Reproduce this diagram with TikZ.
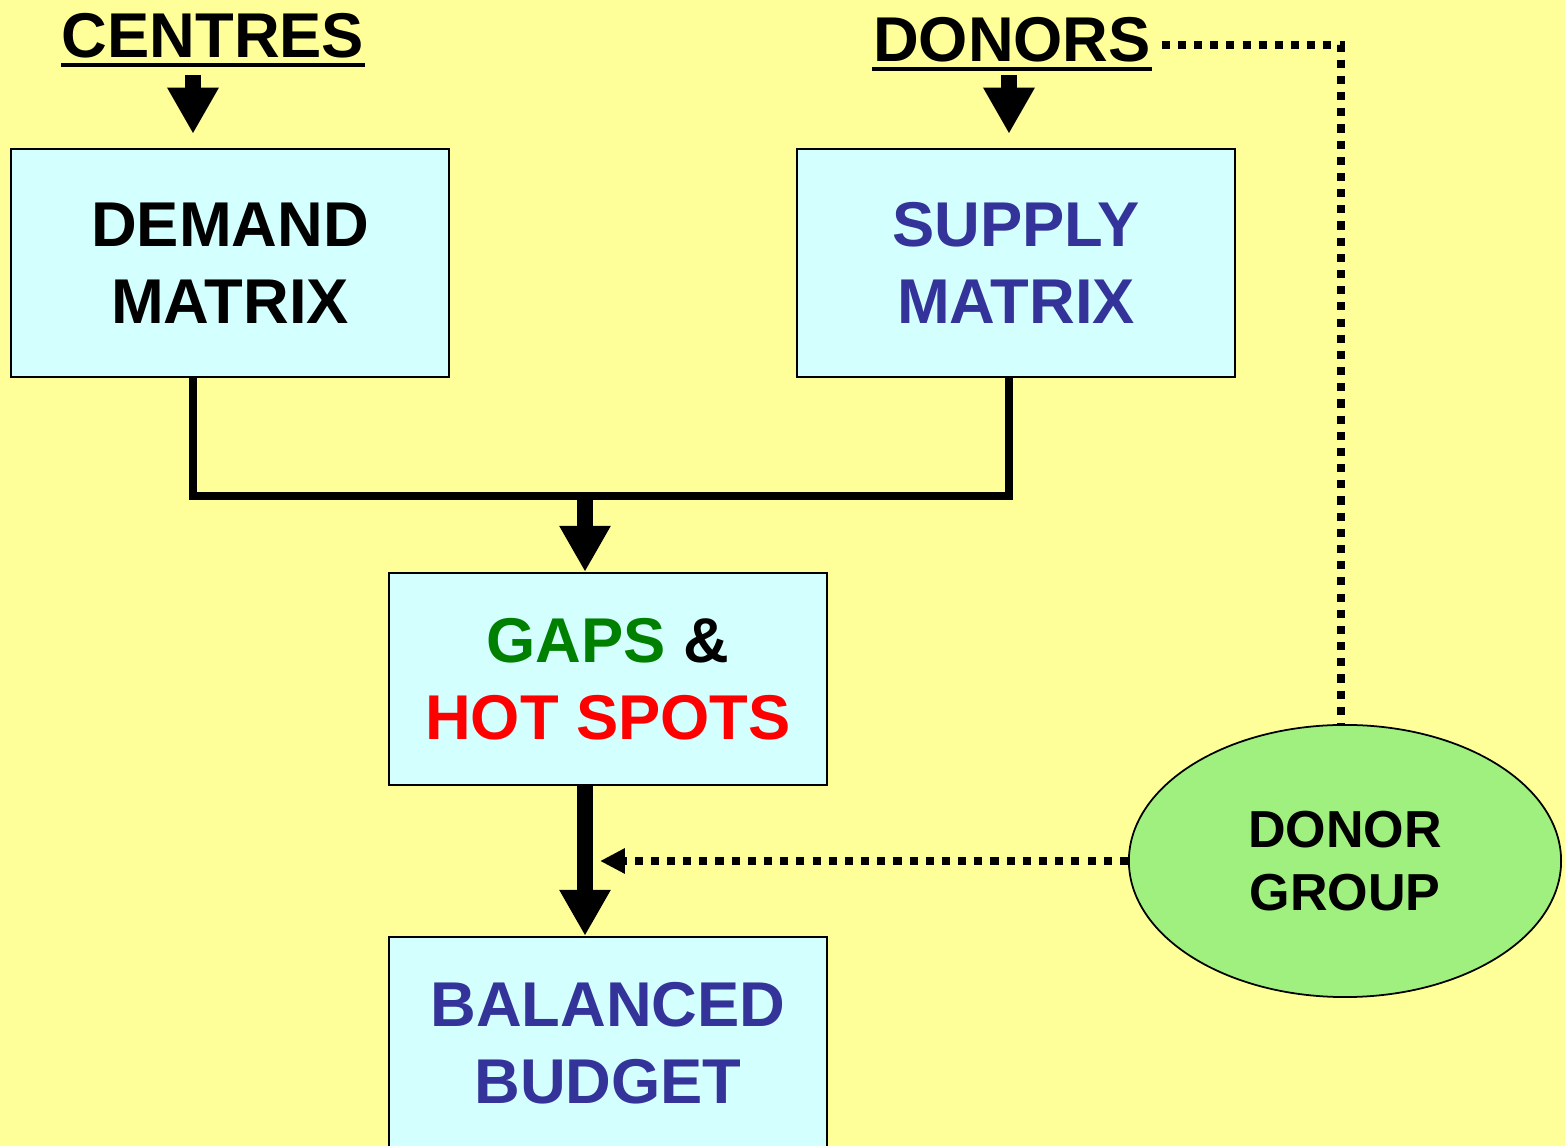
\documentclass[tikz,border=0pt]{standalone}
\usepackage{fontspec}
\setmainfont{Liberation Sans}
\usetikzlibrary{positioning,calc,arrows.meta,shapes.geometric}
\definecolor{bgyellow}{HTML}{FFFF99}
\definecolor{boxcyan}{HTML}{D4FFFF}
\definecolor{grpgreen}{HTML}{A0F080}
\definecolor{txtblue}{HTML}{333399}
\definecolor{txtgreen}{HTML}{008000}
\definecolor{txtred}{HTML}{FF0000}

\begin{document}
\begin{tikzpicture}[x=0.01cm, y=-0.01cm,
  mbox/.style   ={rectangle, draw=black, line width=0.6pt, fill=boxcyan, minimum width=4.38cm, minimum height=2.28cm, align=center, font=\fontsize{18}{22}\selectfont\bfseries},
  gbox/.style   ={mbox, minimum height=2.12cm},
  grp/.style    ={ellipse, draw=black, line width=0.5pt, fill=grpgreen, minimum width=4.32cm, minimum height=2.72cm, inner sep=0pt, align=center, font=\fontsize{14.8}{18}\selectfont\bfseries},
  title/.style  ={inner sep=0pt, anchor=base, font=\fontsize{18}{22}\selectfont\bfseries},
  uline/.style  ={line width=1.1pt},
  joinline/.style={line width=2pt},
  fatarrow/.style={line width=4.4pt, -{Triangle[length=13.1pt, width=13.7pt]}},
  dotline/.style={line width=2pt, dash pattern=on 2.3pt off 2.3pt},
]
% page: 1565 x 1146 units of 0.01cm, y runs downwards
\clip (0,0) rectangle (1565,1146);
\fill[bgyellow] (0,0) rectangle (1565,1146);
% columns of the arrows
\coordinate (colL) at (193,0);
\coordinate (colR) at (1009,0);
\coordinate (colM) at (585,496);
% titles
\node[title] (centres) at (213,58) {CENTRES};
\node[title] (donors)  at (1012,62) {DONORS};
\draw[uline] ($(centres.base west)+(0,7)$) -- ($(centres.base east)+(0,7)$);
\draw[uline] ($(donors.base west)+(0,7)$) -- ($(donors.base east)+(0,7)$);
% boxes
\node[mbox] (demand) at (230,263) {DEMAND\\MATRIX};
\node[mbox] (supply) at (1016,263) {\color{txtblue}SUPPLY\\\color{txtblue}MATRIX};
\node[gbox] (gaps)   at (608,679) {\color{txtgreen}GAPS \color{black}\&\\\color{txtred}HOT SPOTS};
\node[gbox] (budget) at (608,1043) {\color{txtblue}BALANCED\\\color{txtblue}BUDGET};
\node[grp]  (dgroup) at (1345,861) {DONOR\\GROUP};
% arrows into the matrices
\draw[fatarrow, shorten >=4pt] ($(centres.base -| colL)+(0,17)$) -- (demand.north -| colL);
\draw[fatarrow, shorten >=4pt] ($(donors.base -| colR)+(0,13)$) -- (supply.north -| colR);
% matrices joined, then down to the gaps and the budget
\draw[joinline] (demand.south -| colL) |- (colM) -| (supply.south -| colR);
\draw[fatarrow] (colM) -- (gaps.north -| colM);
\draw[fatarrow] (gaps.south -| colM) -- (budget.north -| colM);
% donor group loop
\coordinate (dottop) at ($(dgroup.north)+(-4,0)$);
\coordinate (dotend) at ($(dgroup.west -| colM)+(15,0)$);
\draw[dotline] ($(donors.base east)+(10,-17)$) -| (dottop);
\draw[dotline, -{Triangle[length=7.1pt, width=6.8pt]}] (dgroup.west) -- (dotend);
\end{tikzpicture}
\end{document}
